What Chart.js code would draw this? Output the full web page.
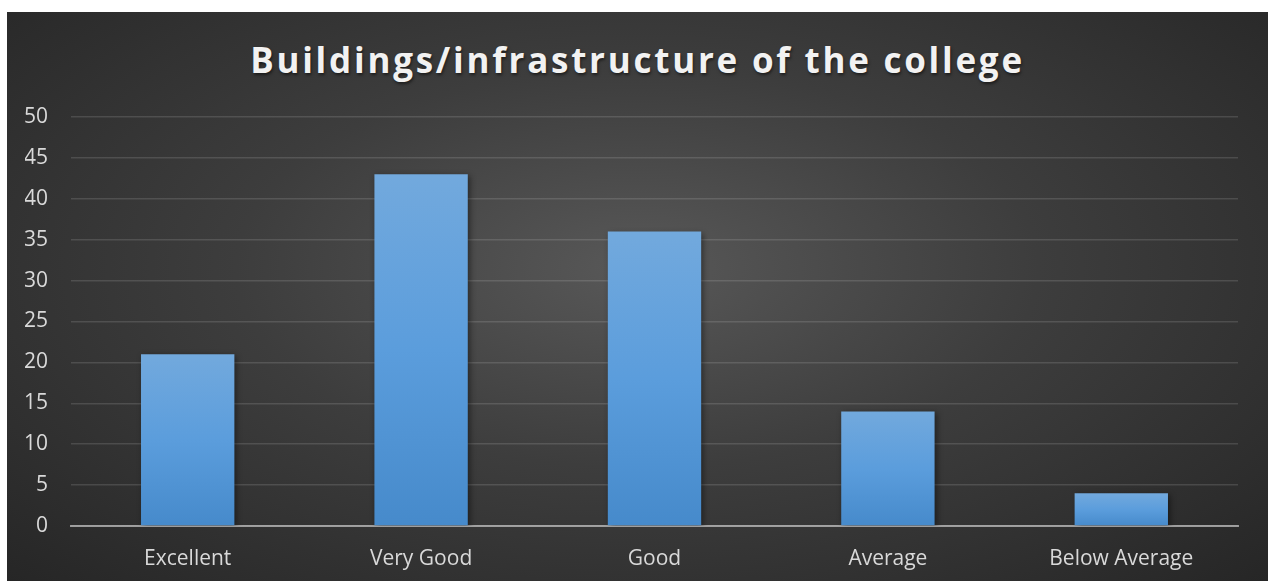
<!DOCTYPE html>
<html>
<head>
<meta charset="utf-8">
<script src="https://cdn.jsdelivr.net/npm/chart.js@4/dist/chart.umd.min.js"></script>
<style>
  html, body { margin: 0; padding: 0; background: #ffffff; }
  #box {
    position: absolute; left: 7px; top: 12px; width: 1261px; height: 569px;
    background: radial-gradient(ellipse farthest-corner at 50% 45%, #585858 0%, #3d3d3d 45%, #262626 100%);
    overflow: hidden;
  }
  #title {
    position: absolute; left: 0; right: 0; top: 24px; text-align: center;
    font-family: "Open Sans", sans-serif; font-weight: 700; font-size: 35px;
    letter-spacing: 2.75px; color: #f2f2f2; text-shadow: 1px 2px 3px rgba(0,0,0,0.5);
  }
  #wrap { position: absolute; left: 0; top: 0; width: 1261px; height: 569px; }
</style>
</head>
<body>
<div id="box">
  <div id="title">Buildings/infrastructure of the college</div>
  <div id="wrap"><canvas id="chart"></canvas></div>
</div>
<script>
// chart data
const categories = ['Excellent', 'Very Good', 'Good', 'Average', 'Below Average'];
const responses = [21, 43, 36, 14, 4];
const yTicks = [0, 5, 10, 15, 20, 25, 30, 35, 40, 45, 50];

const textColor = '#d9d9d9';
const gridColor = 'rgba(255,255,255,0.13)';

function barGradient(ctx) {
  const chart = ctx.chart;
  const y = chart.scales.y;
  if (!y || ctx.raw == null) return '#5b9bd5';
  const top = y.getPixelForValue(ctx.raw);
  const base = y.getPixelForValue(0);
  if (!isFinite(top) || !isFinite(base)) return '#5b9bd5';
  const g = chart.ctx.createLinearGradient(0, top, 0, base);
  g.addColorStop(0, '#72a9dd');
  g.addColorStop(0.5, '#5b9ddc');
  g.addColorStop(1, '#468acb');
  return g;
}

// fixed axis sizes so the plot area lands where the original one is
function fixAxis(size) {
  return axis => {
    if (axis.isHorizontal()) axis.height = size; else axis.width = size;
    axis.paddingLeft = axis.paddingRight = axis.paddingTop = axis.paddingBottom = 0;
  };
}

// soft drop shadow under the bars
const barShadow = {
  id: 'barShadow',
  beforeDatasetsDraw(chart) {
    const c = chart.ctx;
    c.save();
    c.shadowColor = 'rgba(0,0,0,0.45)';
    c.shadowBlur = 6;
    c.shadowOffsetX = 2;
    c.shadowOffsetY = 2;
  },
  afterDatasetsDraw(chart) {
    chart.ctx.restore();
  }
};

new Chart(document.getElementById('chart'), {
  type: 'bar',
  data: {
    labels: categories,
    datasets: [{
      data: responses,
      backgroundColor: barGradient,
      borderWidth: 0,
      barPercentage: 0.4,
      categoryPercentage: 1.0
    }]
  },
  options: {
    responsive: true,
    maintainAspectRatio: false,
    animation: false,
    layout: { padding: { top: 105, right: 30, bottom: 0, left: 18 } },
    plugins: {
      legend: { display: false },
      tooltip: { enabled: false }
    },
    scales: {
      x: {
        z: 1, // axis line sits over the bars, like the original
        afterFit: fixAxis(55),
        grid: { display: false, drawTicks: false },
        border: { display: true, color: 'rgba(200,200,200,0.7)', width: 2 },
        ticks: { color: textColor, font: { family: 'Open Sans', size: 21 }, padding: 20 }
      },
      y: {
        min: 0,
        max: 50,
        afterFit: fixAxis(46),
        afterBuildTicks: axis => { axis.ticks = yTicks.map(v => ({ value: v })); },
        grid: { color: gridColor, lineWidth: 1.5, drawTicks: false },
        border: { display: false },
        ticks: { color: textColor, font: { family: 'Open Sans', size: 21 }, padding: 23 }
      }
    }
  },
  plugins: [barShadow]
});
</script>
</body>
</html>
